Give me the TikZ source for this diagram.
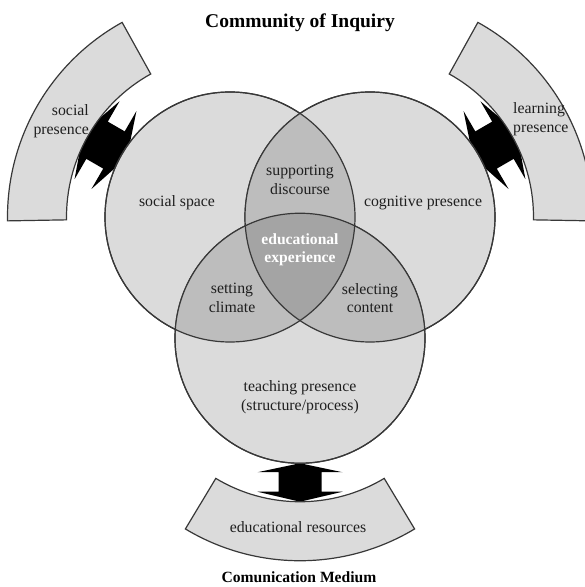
\documentclass[tikz,border=0pt]{standalone}
\usepackage{fontspec}
\setmainfont{Liberation Serif}
\usetikzlibrary{calc}
\definecolor{ringfill}{gray}{0.86}
\definecolor{pairfill}{gray}{0.74}
\definecolor{corefill}{gray}{0.645}
\definecolor{edgegray}{gray}{0.22}
\definecolor{inkgray}{gray}{0.12}
\tikzset{
  lbl/.style={font=\fontsize{15.8}{18.5}\selectfont, align=center, inner sep=0pt, text=inkgray},
  heading/.style={font=\bfseries\fontsize{19.5}{22}\selectfont, inner sep=0pt, text=black},
  footing/.style={font=\bfseries\fontsize{15.6}{18}\selectfont, inner sep=0pt, text=black},
  venn/.style={circle, minimum size=250pt, inner sep=0pt, outer sep=0pt, fill=ringfill, draw=edgegray, line width=1.2pt},
  outline/.style={draw=edgegray, line width=1.2pt},
  bandstyle/.style={fill=ringfill, draw=edgegray, line width=1.2pt},
  linkarrow/.style={fill=black},
}
\begin{document}
\begin{tikzpicture}[x=1pt,y=1pt]
\useasboundingbox (0,0) rectangle (585,587);
\clip (0,0) rectangle (585,587);

% centres of the three presences
\coordinate (cL) at (230,370);
\coordinate (cR) at (370,370);
\coordinate (cB) at (300,248.76);

% double block arrows between each circle and its outer band;
% the side ones have wider heads whose tips tuck under the arcs
\foreach \c/\d/\hw/\ti/\to in {cL/150/45/119/169.5, cR/30/45/119/169.5, cB/270/42.5/125/163.5} {
  \fill[linkarrow, shift={(\c)}, rotate=\d]
    (\ti,0) -- (134,\hw) -- (134,21.5) -- (153.5,21.5) -- (153.5,\hw) -- (\to,0)
    -- (153.5,-\hw) -- (153.5,-21.5) -- (134,-21.5) -- (134,-\hw) -- cycle;
}

% outer bands
\foreach \c/\d in {cL/150, cR/30, cB/270} {
  \filldraw[bandstyle, shift={(\c)}]
    (\d-31:163.5pt) arc[start angle=\d-31, end angle=\d+31, radius=163.5pt]
    -- (\d+31:222.5pt) arc[start angle=\d+31, end angle=\d-31, radius=222.5pt] -- cycle;
}

% the three circles
\node[venn] (social) at (cL) {};
\node[venn] (cognitive) at (cR) {};
\node[venn] (teaching) at (cB) {};

% pairwise overlaps
\begin{scope}
  \clip (cL) circle[radius=125pt];
  \fill[pairfill] (cR) circle[radius=125pt];
  \fill[pairfill] (cB) circle[radius=125pt];
\end{scope}
\begin{scope}
  \clip (cR) circle[radius=125pt];
  \fill[pairfill] (cB) circle[radius=125pt];
\end{scope}
% common core
\begin{scope}
  \clip (cL) circle[radius=125pt];
  \clip (cR) circle[radius=125pt];
  \fill[corefill] (cB) circle[radius=125pt];
\end{scope}

\draw[outline] (social.center) circle[radius=125pt];
\draw[outline] (cognitive.center) circle[radius=125pt];
\draw[outline] (teaching.center) circle[radius=125pt];

% labels
\node[heading] (title) at (300,564) {Community of Inquiry};
\node[footing] (medium) at (299,10) {Comunication Medium};

\node[lbl] (socialspace) at (177,384) {social space};
\node[lbl] (cogpres) at (423,384) {cognitive presence};
\node[lbl] (discourse) at (300,407) {supporting\\discourse};
\node[lbl, text=white, font=\bfseries\fontsize{15.6}{17.5}\selectfont] (experience) at (300,337) {educational\\experience};
\node[lbl] (climate) at (232,289) {setting\\climate};
\node[lbl] (content) at (370,289) {selecting\\content};
\node[lbl] (teachpres) at (300,190) {teaching presence\\(structure/process)};
\node[lbl, align=right, anchor=east] (socpres) at (89,466) {social\\presence};
\node[lbl, align=left, anchor=west] (learnpres) at (513,468) {learning\\presence};
\node[lbl] (resources) at (298,60) {educational resources};
\end{tikzpicture}
\end{document}
